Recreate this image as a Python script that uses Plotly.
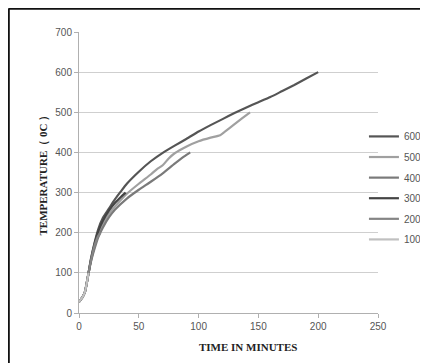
import plotly.graph_objects as go

# ---- data ----
t600 = [0, 3, 5, 8, 10, 13, 16, 20, 25, 30, 35, 40, 50, 60, 70, 80, 90, 100, 110, 120, 130, 140, 150, 160, 170, 180, 190, 200]
v600 = [28, 40, 53, 100, 135, 175, 208, 237, 260, 283, 303, 322, 352, 378, 399, 417, 434, 452, 468, 483, 498, 512, 525, 538, 553, 568, 584, 600]

t500 = [0, 3, 5, 8, 10, 13, 16, 20, 25, 30, 40, 50, 60, 65, 70, 75, 80, 90, 100, 110, 118, 122, 129, 136, 143]
v500 = [28, 40, 53, 100, 130, 165, 195, 222, 247, 265, 297, 322, 345, 358, 368, 385, 398, 415, 428, 437, 443, 452, 468, 484, 500]

t400 = [0, 3, 5, 8, 10, 13, 16, 20, 25, 30, 40, 50, 60, 70, 80, 88, 93]
v400 = [28, 40, 53, 100, 128, 160, 188, 213, 238, 257, 285, 307, 327, 348, 372, 390, 400]

t300 = [0, 3, 5, 8, 10, 13, 16, 20, 25, 30, 35, 39]
v300 = [28, 40, 53, 100, 133, 172, 203, 230, 255, 274, 289, 300]

t200 = [0, 3, 5, 8, 10, 13, 16, 18]
v200 = [28, 40, 53, 100, 130, 168, 192, 200]

t100 = [0, 3, 5, 8]
v100 = [28, 40, 53, 100]

names = ["600", "500", "400", "300", "200", "100"]
times = [t600, t500, t400, t300, t200, t100]
vals = [v600, v500, v400, v300, v200, v100]
colors = ["#555555", "#a0a0a0", "#7a7a7a", "#444444", "#858585", "#c0c0c0"]

x_ticks = [0, 50, 100, 150, 200, 250]
y_ticks = [0, 100, 200, 300, 400, 500, 600, 700]

fig = go.Figure()
for i, (n, t, v, c) in enumerate(zip(names, times, vals, colors)):
    fig.add_trace(go.Scatter(x=t, y=v, name=n, mode="lines",
                             line=dict(color=c, width=2.2, shape="spline", smoothing=0.6),
                             legendgroup=f"g{i}"))

tick_font = dict(family="Liberation Sans Narrow, Liberation Sans, Arial", size=10, color="#555555")
title_font = dict(family="Liberation Serif, Times New Roman, serif", size=11, color="#222222")

# figure is placed at (8, 8) in the page (body margin), so layout is in page coords - 8
W, H = 420, 355
L, T, PW, PH = 71, 24, 299, 281

fig.update_layout(
    width=W, height=H,
    margin=dict(l=L, r=W - L - PW, t=T, b=H - T - PH, autoexpand=False),
    paper_bgcolor="white", plot_bgcolor="white",
    showlegend=True,
    legend=dict(x=0.953, y=0.68, xanchor="left", yanchor="top",
                font=dict(family="Liberation Sans Narrow, Liberation Sans, Arial", size=10, color="#555555"),
                tracegroupgap=1.6, itemwidth=30, bgcolor="rgba(0,0,0,0)"),
    xaxis=dict(range=[0, 250], tickvals=x_ticks, showgrid=False, zeroline=False,
               showline=True, linecolor="#b0b0b0", linewidth=1,
               ticks="outside", ticklen=4, tickcolor="#b0b0b0",
               tickfont=tick_font, fixedrange=True),
    yaxis=dict(range=[0, 700], tickvals=y_ticks, showgrid=True, gridcolor="#cfcfcf", gridwidth=1,
               zeroline=False, showline=True, linecolor="#b0b0b0", linewidth=1,
               ticks="outside", ticklen=4, tickcolor="#b0b0b0",
               tickfont=tick_font, fixedrange=True),
    annotations=[
        dict(text="<b>TIME IN MINUTES</b>", xref="paper", yref="paper",
             x=(240 - L) / PW, y=-(339 - (T + PH)) / PH, xanchor="center", yanchor="middle",
             showarrow=False, font=title_font),
        dict(text="<b>TEMPERATURE（ 0C ）</b>", xref="paper", yref="paper",
             x=-(L - 35) / PW, y=0.5, xanchor="center", yanchor="middle",
             textangle=-90, showarrow=False, font=title_font),
    ],
    shapes=[
        dict(type="line", xref="paper", yref="paper",
             x0=(0.5 - L) / PW, x1=1.3, y0=(T + PH - 0.8) / PH, y1=(T + PH - 0.8) / PH,
             line=dict(color="#111111", width=2)),
        dict(type="line", xref="paper", yref="paper",
             x0=(0.8 - L) / PW, x1=(0.8 - L) / PW, y0=-0.3, y1=(T + PH - 0.5) / PH,
             line=dict(color="#111111", width=2)),
    ],
)

fig.write_html("out.html")
